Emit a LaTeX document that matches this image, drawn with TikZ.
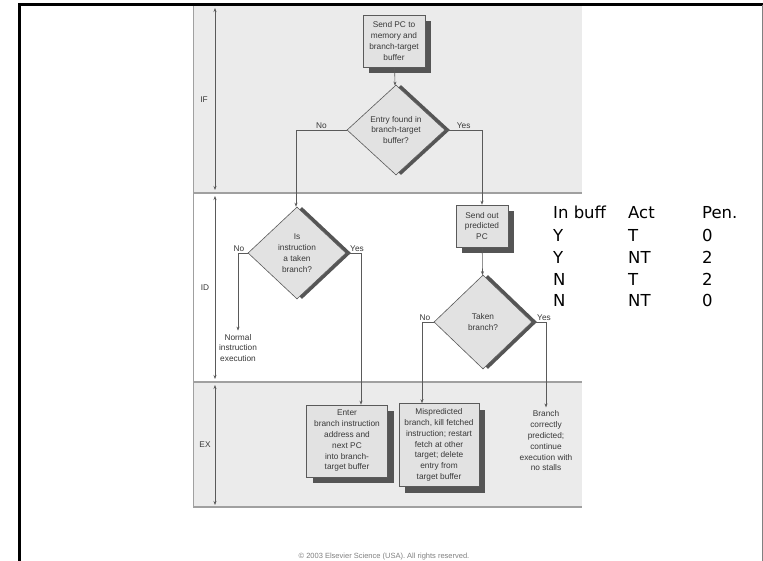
\documentclass[tikz,border=0pt]{standalone}
\usepackage{fontspec}
\setmainfont{Liberation Sans}
\newfontfamily\tablefont{DejaVu Sans}
\usetikzlibrary{arrows.meta,shapes.geometric,shadows,calc}
\definecolor{bandgray}{HTML}{EBEBEB}
\definecolor{shapefill}{HTML}{E2E2E2}
\definecolor{shadowgray}{HTML}{555555}
\definecolor{linegray}{HTML}{5A5A5A}
\definecolor{txtgray}{HTML}{383838}
\definecolor{sepgray}{HTML}{A0A0A0}
\begin{document}
\begin{tikzpicture}[x=1pt,y=-1pt,
  flow/.style={font=\fontsize{8.3}{10.8}\selectfont, text=txtgray, align=center},
  procbox/.style={flow, draw=linegray, fill=shapefill, line width=0.6pt, inner sep=1pt,
    drop shadow={shadow xshift=6pt, shadow yshift=-6pt, fill=shadowgray, opacity=1}},
  decision/.style={flow, diamond, draw=linegray, fill=shapefill, line width=0.6pt, inner sep=0pt,
    drop shadow={shadow xshift=5pt, shadow yshift=0pt, fill=shadowgray, opacity=1}},
  flowline/.style={draw=linegray, line width=0.6pt, -{Stealth[length=4pt,width=3pt]}},
  lbl/.style={flow, inner sep=1.5pt},
  bandarrow/.style={draw=linegray, line width=0.7pt, {Stealth[length=4pt,width=3pt]}-{Stealth[length=4pt,width=3pt]}},
  sepline/.style={draw=sepgray, line width=1.6pt},
  tab/.style={font=\tablefont\fontsize{16.5}{20}\selectfont, anchor=base west, inner sep=0pt}
]
\useasboundingbox (0,0) rectangle (763,561);
\fill[white] (0,0) rectangle (763,561);
% panel bands
\fill[bandgray] (193,6) rectangle (582,193);
\fill[bandgray] (193,382) rectangle (582,507);
\draw[sepline] (193,193) -- (582,193);
\draw[sepline] (193,382) -- (582,382);
\draw[sepline] (193,507) -- (582,507);
\draw[draw=sepgray, line width=1pt] (193,6) -- (193,507);
% band markers
\coordinate (if1) at (215,8);   \coordinate (if2) at (215,190);
\coordinate (id1) at (215,196); \coordinate (id2) at (215,379);
\coordinate (ex1) at (215,385); \coordinate (ex2) at (215,505);
\draw[bandarrow] (if1) -- (if2);
\draw[bandarrow] (id1) -- (id2);
\draw[bandarrow] (ex1) -- (ex2);
\node[flow] (lif) at (204,100) {IF};
\node[flow] (lid) at (205,288) {ID};
\node[flow] (lex) at (205,445) {EX};
% nodes
\node[procbox, minimum width=62, minimum height=52] (send) at (394,41) {Send PC to\\memory and\\branch-target\\buffer};
\node[decision, minimum width=98, minimum height=90] (entry) at (396,130) {Entry found in\\branch-target\\buffer?};
\node[decision, minimum width=98, minimum height=92] (isb) at (297,253) {Is\\instruction\\a taken\\branch?};
\node[procbox, minimum width=52, minimum height=42] (pred) at (482,226) {Send out\\predicted\\PC};
\node[decision, minimum width=98, minimum height=94] (tb) at (483,322) {Taken\\branch?};
\node[flow] (normal) at (238,348) {Normal\\instruction\\execution};
\node[procbox, minimum width=81, minimum height=72] (enter) at (347,441) {Enter\\branch instruction\\address and\\next PC\\into branch-\\target buffer};
\node[procbox, minimum width=80, minimum height=83] (misp) at (439,445) {Mispredicted\\branch, kill fetched\\instruction; restart\\fetch at other\\target; delete\\entry from\\target buffer};
\node[flow] (corr) at (546,441) {Branch\\correctly\\predicted;\\continue\\execution with\\no stalls};
% connectors
\draw[flowline] (send) -- (entry);
\draw[flowline] (entry.west) -| node[lbl, pos=0.25, above] {No} ([xshift=-1pt]isb.north);
\draw[flowline] (entry.east) -| node[lbl, pos=0.25, above] {Yes} (pred.north);
\draw[flowline] (isb.west) -| node[lbl, pos=0.5, above, xshift=1pt] {No} (normal.north);
\draw[flowline] (isb.east) -| node[lbl, pos=0.5, above, xshift=-4pt] {Yes} ([xshift=14pt]enter.north);
\draw[flowline] (pred) -- (tb);
\draw[flowline] (tb.west) -| node[lbl, pos=0.5, above, xshift=3pt] {No} ([xshift=-17pt]misp.north);
\draw[flowline] (tb.east) -| node[lbl, pos=0.5, above, xshift=-2pt] {Yes} (corr.north);
% table
\node[tab] (h1) at (553,218.5) {In buff};
\node[tab] (h2) at (628,218.5) {Act};
\node[tab] (h3) at (702,218.5) {Pen.};
\node[tab] (r1a) at (553,241.5) {Y};  \node[tab] (r1b) at (628,241.5) {T};  \node[tab] (r1c) at (702,241.5) {0};
\node[tab] (r2a) at (553,263.5) {Y};  \node[tab] (r2b) at (628,263.5) {NT}; \node[tab] (r2c) at (702,263.5) {2};
\node[tab] (r3a) at (553,285.5) {N};  \node[tab] (r3b) at (628,285.5) {T};  \node[tab] (r3c) at (702,285.5) {2};
\node[tab] (r4a) at (553,306.5) {N};  \node[tab] (r4b) at (628,306.5) {NT}; \node[tab] (r4c) at (702,306.5) {0};
% copyright
\node[font=\fontsize{7.5}{9}\selectfont, text=gray, anchor=south, inner sep=0pt] (copy) at (384,560) {© 2003 Elsevier Science (USA). All rights reserved.};
% outer frame
\draw[line width=3pt, black] (19,561) -- (19,5) -- (763,5);
\draw[draw=gray, line width=1pt] (762,5) -- (762,561);
\end{tikzpicture}
\end{document}
